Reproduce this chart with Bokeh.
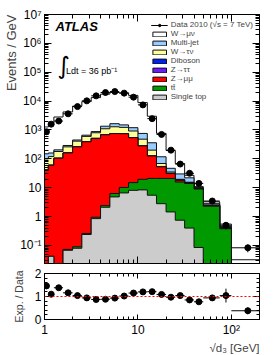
import numpy as np
from bokeh.plotting import figure
from bokeh.models import (FixedTicker, CustomJSTickFormatter, LogAxis, LinearAxis,
                          Range1d, Span, Label, Legend, LegendItem, Title)
from bokeh.layouts import column
from bokeh.embed import file_html
from bokeh.resources import INLINE

# ---------------- data ----------------
edges = [1.0, 1.1, 1.26, 1.58, 2.0, 2.51, 3.16, 3.98, 5.01, 6.31, 7.94, 10.0,
         12.6, 15.8, 20.0, 25.1, 31.6, 39.8, 50.0, 75.0, 100.0, 200.0]

data = [870, 1590, 2040, 3630, 6460, 10200, 15200, 19800, 21400, 18900, 13700,
        7400, 2470, 700, 200, 66, 31.6, 14.1, 3.46, 0.50, 0.083]
data_err = [5, 10, 15, 25, 35, 45, 60, 70, 80, 80, 60, 40, 20, 7, 3, 1.2, 0.6,
            0.36, 0.37, 0.14, 0.025]

single_top = [0, 0.042, 0, 0.068, 0.08, 0.24, 0.85, 2.1, 4.8, 6.6, 8.1, 8.4, 5.5,
              2.8, 1.45, 0.75, 0.4, 0.085, 0, 0, 0]
ttbar = [0, 0, 0, 0.005, 0.01, 0.02, 0.1, 0.3, 1.5, 3.6, 6.9, 11.1, 15.5, 18.2,
         19.5, 15.0, 13.6, 8.9, 2.3, 0.38, 0]
z_mumu = [41, 60, 105, 160, 260, 390, 509, 678, 744, 730, 525, 260, 104, 32, 10,
          2.3, 0.5, 0.1, 0.05, 0.005, 0]
z_tautau = [0.3, 0.4, 0.6, 0.9, 1.4, 2.0, 2.6, 3.2, 3.4, 3.2, 2.4, 1.3, 0.6, 0.3,
            0.15, 0.08, 0.05, 0.03, 0.01, 0.002, 0]
diboson = [0.1, 0.15, 0.2, 0.3, 0.5, 0.7, 1.0, 1.3, 1.6, 1.8, 1.9, 1.8, 1.5, 1.2,
           0.9, 0.7, 0.5, 0.3, 0.12, 0.03, 0.005]
w_taunu = [58, 59, 74, 99, 148, 207, 286, 415, 535, 485, 376, 197, 73, 14.5, 3.0,
           0.7, 0.45, 0.1, 0.02, 0.003, 0]
multijet = [50, 40, 25, 30, 40, 60, 80, 250, 360, 270, 280, 280, 160, 49, 12,
            10.5, 6.5, 0.6, 0.3, 0.03, 0.015]
w_munu = [1120, 1590, 2610, 3920, 6270, 8930, 12340, 16070, 18250, 17780, 14560,
          8120, 2630, 645, 147, 38.6, 4.9, 0.8, 0.45, 0.1, 0.012]

ratio = [1.46, 1.10, 1.38, 1.16, 1.04, 0.94, 0.87, 0.88, 0.93, 1.02, 1.15, 1.20,
         1.21, 1.09, 0.97, 1.04, 0.85, 0.77, 0.94, 1.04, 0.38]
ratio_err = [0.08, 0.03, 0.03, 0.02, 0.02, 0.02, 0.02, 0.02, 0.02, 0.02, 0.02,
             0.02, 0.03, 0.03, 0.04, 0.05, 0.05, 0.06, 0.08, 0.30, 0.15]

# stack order bottom -> top
components = [
    ("Single top", single_top, "#cccccc"),
    ("tt\u0304", ttbar, "#009900"),
    ("Z\u2192\u03bc\u03bc", z_mumu, "#ff0000"),
    ("Z\u2192\u03c4\u03c4", z_tautau, "#6a1aff"),
    ("Diboson", diboson, "#0022ee"),
    ("W\u2192\u03c4\u03bd", w_taunu, "#ffff99"),
    ("Multi-jet", multijet, "#99ccff"),
    ("W\u2192\u03bc\u03bd", w_munu, "#ffffff"),
]
legend_order = ["W\u2192\u03bc\u03bd", "Multi-jet", "W\u2192\u03c4\u03bd", "Diboson",
                "Z\u2192\u03c4\u03c4", "Z\u2192\u03bc\u03bc", "tt\u0304", "Single top"]

FONT = "Liberation Sans"
edges_a = np.array(edges)
centers = 0.5 * (edges_a[:-1] + edges_a[1:])
FLOOR = 1e-4

sup_code = """
const e = Math.round(Math.log10(tick));
if (e == 0) return "1";
if (e == 1) return "10";
const sup = {"-":"\u207b","0":"\u2070","1":"\u00b9","2":"\u00b2","3":"\u00b3","4":"\u2074",
             "5":"\u2075","6":"\u2076","7":"\u2077","8":"\u2078","9":"\u2079"};
return "10" + String(e).split("").map(c => sup[c]).join("");
"""

def log_minor(lo, hi):
    m = []
    for n in range(lo, hi + 1):
        for k in range(2, 10):
            m.append(k * 10.0 ** n)
    return m

def style_axis(ax, major_in, minor_in, show_labels=True):
    ax.major_tick_in = major_in
    ax.major_tick_out = 0
    ax.minor_tick_in = minor_in
    ax.minor_tick_out = 0
    ax.axis_line_color = "black"
    ax.major_tick_line_color = "black"
    ax.minor_tick_line_color = "black"
    ax.major_label_text_font = FONT
    ax.major_label_text_color = "black"
    if show_labels:
        ax.major_label_text_font_size = "12px"
        ax.major_label_standoff = 3
    else:
        ax.major_label_text_font_size = "1px"
        ax.major_label_text_alpha = 0
        ax.major_label_standoff = 0

def make_title(text, align, size, standoff):
    t = Title(text=text, align=align, text_font=FONT, text_font_size=size,
              text_font_style="normal")
    try:
        t.standoff = standoff
    except Exception:
        t.standoff = 0
    return t

# ---------------- main panel ----------------
p = figure(frame_width=215, frame_height=249, x_axis_type="log", y_axis_type="log",
           x_range=Range1d(1, 200), y_range=Range1d(0.0237, 1e7),
           x_axis_location=None, y_axis_location=None,
           output_backend="svg", toolbar_location=None,
           min_border_left=44, min_border_right=10, min_border_top=14, min_border_bottom=5)
p.xgrid.visible = False
p.ygrid.visible = False
p.outline_line_color = "black"
p.background_fill_color = "white"

xt = FixedTicker(ticks=[1, 10, 100], minor_ticks=log_minor(0, 2))
yt = FixedTicker(ticks=[10.0 ** n for n in range(-1, 8)], minor_ticks=log_minor(-2, 6))

ax_b = LogAxis(ticker=xt); style_axis(ax_b, 7, 4, False); p.add_layout(ax_b, "below")
ax_t = LogAxis(ticker=xt); style_axis(ax_t, 7, 4, False); p.add_layout(ax_t, "above")
ax_l = LogAxis(ticker=yt, formatter=CustomJSTickFormatter(code=sup_code))
style_axis(ax_l, 7, 4, True); p.add_layout(ax_l, "left")
ax_r = LogAxis(ticker=yt); style_axis(ax_r, 7, 4, False); p.add_layout(ax_r, "right")
p.add_layout(make_title("Events / GeV", "right", "13px", -2), "left")

# cumulative stack
cum = np.zeros(len(data))
cums = []
for name, vals, col in components:
    cum = cum + np.array(vals, dtype=float)
    cums.append((name, cum.copy(), col))

def step_poly(c):
    xs = [edges_a[0]]
    ys = [FLOOR]
    for i in range(len(c)):
        v = max(c[i], FLOOR)
        xs += [edges_a[i], edges_a[i + 1]]
        ys += [v, v]
    xs.append(edges_a[-1]); ys.append(FLOOR)
    return xs, ys

renderers = {}
for name, c, col in reversed(cums):
    xs, ys = step_poly(c)
    renderers[name] = p.patch(xs, ys, fill_color=col, line_color="#111111", line_width=1)

# data
hseg = p.segment(x0=edges_a[:-1], x1=edges_a[1:], y0=data, y1=data,
                 line_color="black", line_width=1)
d = np.array(data); de = np.array(data_err)
p.segment(x0=centers, x1=centers, y0=d - de, y1=d + de, line_color="black", line_width=1)
pts = p.scatter(centers, data, size=6, fill_color="black", line_color="black")

items = [LegendItem(label="Data 2010 (\u221as = 7 TeV)", renderers=[hseg, pts])]
for nm in legend_order:
    items.append(LegendItem(label=nm, renderers=[renderers[nm]]))
leg = Legend(items=items, location="top_right", margin=6, padding=0,
             glyph_width=17, glyph_height=6, label_height=7, label_standoff=3,
             label_text_font=FONT, label_text_font_size="8px",
             label_text_line_height=1.0,
             background_fill_alpha=0, border_line_color=None)
try:
    leg.spacing = -2
except Exception:
    leg.spacing = 0
p.add_layout(leg)

p.add_layout(Label(x=1.31, y=3.9e6, text="ATLAS", text_font=FONT,
                   text_font_style="bold italic", text_font_size="13px",
                   text_baseline="middle", text_color="black"))
p.add_layout(Label(x=1.38, y=1.6e5, text="\u222b", text_font="DejaVu Sans",
                   text_font_size="24px", text_baseline="middle", text_color="black"))
p.add_layout(Label(x=1.70, y=1.1e5, text="Ldt = 36 pb\u207b\u00b9", text_font=FONT,
                   text_font_size="9px", text_baseline="middle", text_color="black"))

# ---------------- ratio panel ----------------
r = figure(frame_width=215, frame_height=46, x_axis_type="log",
           x_range=Range1d(1, 200), y_range=Range1d(0, 2),
           x_axis_location=None, y_axis_location=None,
           output_backend="svg", toolbar_location=None,
           min_border_left=44, min_border_right=10, min_border_top=5, min_border_bottom=36)
r.xgrid.visible = False
r.ygrid.visible = False
r.outline_line_color = "black"

rx_b = LogAxis(ticker=xt, formatter=CustomJSTickFormatter(code=sup_code))
style_axis(rx_b, 5, 3, True); rx_b.major_label_standoff = 3
r.add_layout(rx_b, "below")
rx_t = LogAxis(ticker=xt); style_axis(rx_t, 5, 3, False); r.add_layout(rx_t, "above")
ryt = FixedTicker(ticks=[0, 1, 2], minor_ticks=[0.2, 0.4, 0.6, 0.8, 1.2, 1.4, 1.6, 1.8])
ry_l = LinearAxis(ticker=ryt); style_axis(ry_l, 6, 3, True)
ry_l.axis_label = "Exp. / Data"
ry_l.axis_label_text_font = FONT
ry_l.axis_label_text_font_size = "10.5px"
ry_l.axis_label_text_font_style = "normal"
ry_l.axis_label_standoff = 7
r.add_layout(ry_l, "left")
ry_r = LinearAxis(ticker=ryt); style_axis(ry_r, 6, 3, False); r.add_layout(ry_r, "right")
r.add_layout(make_title("\u221ad\u2083 [GeV]", "right", "11.5px", 0), "below")

r.add_layout(Span(location=1, dimension="width", line_color="red", line_dash="2 2",
                  line_width=1))
ra = np.array(ratio); rae = np.array(ratio_err)
r.segment(x0=edges_a[:-1], x1=edges_a[1:], y0=ra, y1=ra, line_color="black", line_width=1)
r.segment(x0=centers, x1=centers, y0=ra - rae, y1=ra + rae, line_color="black", line_width=1)
r.scatter(centers, ratio, size=6, fill_color="black", line_color="black")

layout = column(p, r, spacing=0)
open("out.html", "w").write(file_html(layout, INLINE))
